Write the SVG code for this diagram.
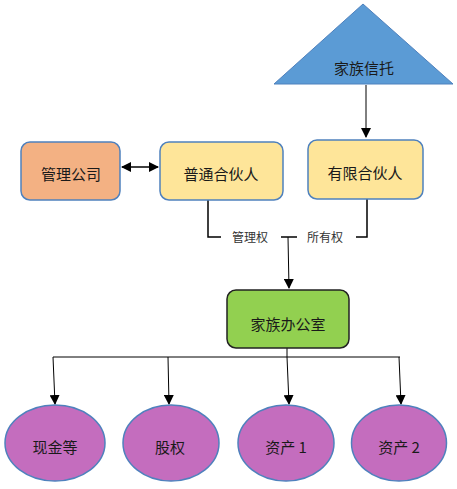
<svg xmlns="http://www.w3.org/2000/svg" width="457" height="489" viewBox="0 0 457 489">
<defs>
<style>
text{font-family:"Noto Sans CJK SC","Liberation Sans",sans-serif;text-anchor:middle;dominant-baseline:central;fill:#1a1a1a}
.t{font-size:15px}
.s{font-size:12px;fill:#333}
.rect{stroke:#4f81bd;stroke-width:1.5}
.ell{fill:#c46dbe;stroke:#4f81bd;stroke-width:1.5}
.ln{fill:none;stroke:#000;stroke-width:1}
.br{fill:none;stroke:#000;stroke-width:1.5}
</style>
<marker id="ah" markerWidth="10" markerHeight="10" refX="9" refY="5" orient="auto" markerUnits="userSpaceOnUse">
<path d="M0,0 L10,5 L0,10 Z" fill="#000"/>
</marker>
<marker id="ahs" markerWidth="10" markerHeight="10" refX="1" refY="5" orient="auto" markerUnits="userSpaceOnUse">
<path d="M10,0 L0,5 L10,10 Z" fill="#000"/>
</marker>
</defs>
<g id="connectors">
<line class="ln" x1="366" y1="85" x2="366" y2="137" marker-end="url(#ah)"/>
<line class="br" x1="122" y1="167" x2="158" y2="167" marker-start="url(#ahs)" marker-end="url(#ah)"/>
<polyline class="br" points="208,200 208,237 221,237"/>
<line class="br" x1="281" y1="237" x2="297" y2="237"/>
<polyline class="br" points="356,237 367,237 367,199"/>
<line class="ln" x1="288" y1="237" x2="289" y2="288" marker-end="url(#ah)"/>
<line class="ln" x1="53" y1="357" x2="400" y2="357"/>
<line class="ln" x1="287" y1="348" x2="287" y2="357"/>
<line class="ln" x1="53" y1="357" x2="55" y2="404" marker-end="url(#ah)"/>
<line class="ln" x1="168" y1="357" x2="169" y2="404" marker-end="url(#ah)"/>
<line class="ln" x1="287" y1="357" x2="289" y2="404" marker-end="url(#ah)"/>
<line class="ln" x1="399" y1="357" x2="401" y2="404" marker-end="url(#ah)"/>
<text class="s" x="250" y="236">管理权</text>
<text class="s" x="325" y="236">所有权</text>
</g>
<g id="trust">
<polygon points="363,4 274,84 453,84" fill="#5b9bd5" stroke="#4f81bd" stroke-width="1"/>
<text class="t" x="364" y="67">家族信托</text>
</g>
<g id="mgmt">
<rect class="rect" x="21" y="142" width="99" height="58" rx="9" fill="#f3b183"/>
<text class="t" x="71" y="173">管理公司</text>
</g>
<g id="gp">
<rect class="rect" x="160" y="142" width="123" height="58" rx="9" fill="#fee599"/>
<text class="t" x="221" y="173">普通合伙人</text>
</g>
<g id="lp">
<rect class="rect" x="308" y="140" width="115" height="59" rx="9" fill="#fee599"/>
<text class="t" x="365" y="172">有限合伙人</text>
</g>
<g id="office">
<rect x="227" y="290" width="122" height="58" rx="9" fill="#92d050" stroke="#222" stroke-width="1.5"/>
<text class="t" x="288" y="323">家族办公室</text>
</g>
<g id="cash">
<ellipse class="ell" cx="55" cy="443" rx="50" ry="38"/>
<text class="t" x="55" y="446">现金等</text>
</g>
<g id="equity">
<ellipse class="ell" cx="171" cy="443" rx="48" ry="38"/>
<text class="t" x="170" y="446">股权</text>
</g>
<g id="asset1">
<ellipse class="ell" cx="286" cy="443" rx="48" ry="38"/>
<text class="t" x="286" y="446">资产 1</text>
</g>
<g id="asset2">
<ellipse class="ell" cx="399" cy="443" rx="47.5" ry="38"/>
<text class="t" x="399" y="446">资产 2</text>
</g>
</svg>
